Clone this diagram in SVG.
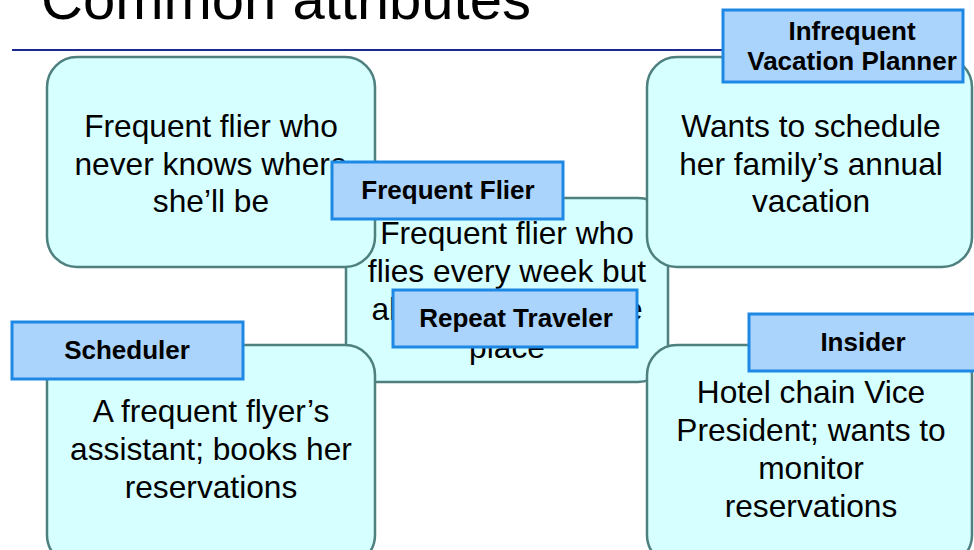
<svg xmlns="http://www.w3.org/2000/svg" width="974" height="550" viewBox="0 0 974 550">
<style>
.box{fill:#d6ffff;stroke:#4f8080;stroke-width:2.5}
.lbl{fill:#aad4fb;stroke:#1e88e5;stroke-width:3}
.t{font-family:"Liberation Sans",Arial,sans-serif;font-size:31.7px;fill:#000;text-anchor:middle}
.b{font-family:"Liberation Sans",Arial,sans-serif;font-size:26px;font-weight:bold;fill:#000;text-anchor:middle}
.title{font-family:"Liberation Sans",Arial,sans-serif;font-size:58px;fill:#000}
</style>
<rect width="974" height="550" fill="#ffffff"/>
<text class="title" x="41" y="19" textLength="490" lengthAdjust="spacingAndGlyphs">Common attributes</text>
<line x1="12" y1="50" x2="730" y2="50" stroke="#1a2896" stroke-width="2.2"/>
<g id="connectors"></g>
<g id="node-repeat-traveler">
<rect class="box" x="346" y="198" width="322" height="184" rx="30"/>
<text class="t" x="507" y="244">Frequent flier who</text>
<text class="t" x="507" y="282">flies every week but</text>
<text class="t" x="507" y="320">always to the same</text>
<text class="t" x="507" y="358">place</text>
</g>
<g id="node-frequent-flier">
<rect class="box" x="47" y="57" width="328" height="210" rx="30"/>
<text class="t" x="211" y="137">Frequent flier who</text>
<text class="t" x="211" y="175">never knows where</text>
<text class="t" x="211" y="212">she’ll be</text>
</g>
<g id="node-vacation-planner">
<rect class="box" x="647" y="57" width="325" height="210" rx="30"/>
<text class="t" x="811" y="137">Wants to schedule</text>
<text class="t" x="811" y="175">her family’s annual</text>
<text class="t" x="811" y="212">vacation</text>
</g>
<g id="node-scheduler">
<rect class="box" x="47" y="345" width="328" height="220" rx="30"/>
<text class="t" x="211" y="422">A frequent flyer’s</text>
<text class="t" x="211" y="460">assistant; books her</text>
<text class="t" x="211" y="498">reservations</text>
</g>
<g id="node-insider">
<rect class="box" x="647" y="345" width="325" height="220" rx="30"/>
<text class="t" x="811" y="403">Hotel chain Vice</text>
<text class="t" x="811" y="441">President; wants to</text>
<text class="t" x="811" y="479">monitor</text>
<text class="t" x="811" y="517">reservations</text>
</g>
<g id="label-frequent-flier">
<rect class="lbl" x="332" y="162" width="231" height="57"/>
<text class="b" x="448" y="199">Frequent Flier</text>
</g>
<g id="label-repeat-traveler">
<rect class="lbl" x="393" y="290" width="244" height="57"/>
<text class="b" x="516" y="327">Repeat Traveler</text>
</g>
<g id="label-scheduler">
<rect class="lbl" x="12" y="322" width="231" height="57"/>
<text class="b" x="127" y="359">Scheduler</text>
</g>
<g id="label-insider">
<rect class="lbl" x="749" y="314" width="240" height="57"/>
<text class="b" x="863" y="351">Insider</text>
</g>
<g id="label-infrequent-vacation-planner">
<rect class="lbl" x="723" y="10" width="240" height="72"/>
<text class="b" x="852" y="40">Infrequent</text>
<text class="b" x="852" y="70">Vacation Planner</text>
</g>
</svg>
